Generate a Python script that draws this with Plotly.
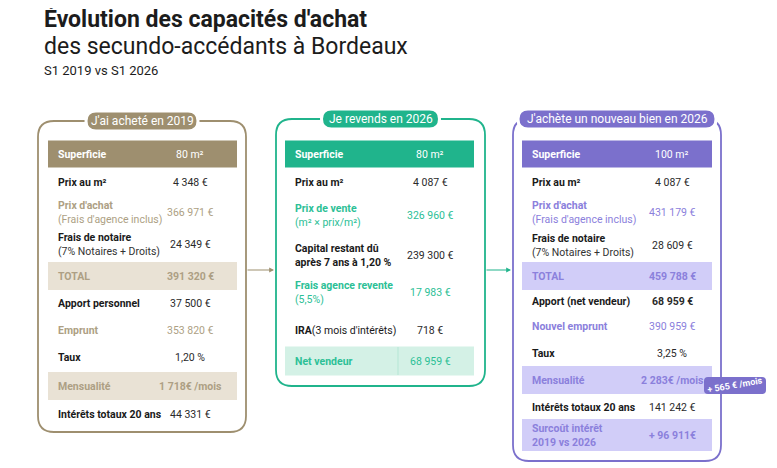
import plotly.graph_objects as go

# --- data ---
p1_labels = ["Superficie", "Prix au m²", "Prix d'achat", "Frais de notaire", "TOTAL",
             "Apport personnel", "Emprunt", "Taux", "Mensualité", "Intérêts totaux 20 ans"]
p1_subs = ["", "", "(Frais d'agence inclus)", "(7% Notaires + Droits)", "", "", "", "", "", ""]
p1_values = ["80 m²", "4 348 €", "366 971 €", "24 349 €", "391 320 €",
             "37 500 €", "353 820 €", "1,20 %", "1 718€ /mois", "44 331 €"]
p1_kinds = ["head", "plain", "accent", "plain", "band", "plain", "accent", "plain", "band", "plain"]

p2_labels = ["Superficie", "Prix au m²", "Prix de vente", "Capital restant dû<br>après 7 ans à 1,20 %",
             "Frais agence revente", "IRA", "Net vendeur"]
p2_subs = ["", "", "(m² × prix/m²)", "", "(5,5%)", "", ""]
p2_values = ["80 m²", "4 087 €", "326 960 €", "239 300 €", "17 983 €", "718 €", "68 959 €"]
p2_kinds = ["head", "plain", "accent", "plain", "accent", "ira", "bandlite"]

p3_labels = ["Superficie", "Prix au m²", "Prix d'achat", "Frais de notaire", "TOTAL",
             "Apport (net vendeur)", "Nouvel emprunt", "Taux", "Mensualité",
             "Intérêts totaux 20 ans", "Surcoût intérêt<br>2019 vs 2026"]
p3_subs = ["", "", "(Frais d'agence inclus)", "(7% Notaires + Droits)", "", "", "", "", "", "", ""]
p3_values = ["100 m²", "4 087 €", "431 179 €", "28 609 €", "459 788 €", "68 959 €",
             "390 959 €", "3,25 %", "2 283€ /mois", "141 242 €", "+ 96 911€"]
p3_kinds = ["head", "plain", "accent", "plain", "band", "boldval", "accent", "plain", "band", "plain", "band"]

# --- layout constants ---
FONT = "Roboto"
panels = [
    dict(labels=p1_labels, subs=p1_subs, values=p1_values, kinds=p1_kinds,
         box=(38, 121, 246, 432), tbl=(48, 237), vx=190, pill="J'ai acheté en 2019", pw=112,
         main="#9e8f6f", light="#e9e2d5", accent="#ad9f84",
         rows=[154, 182, 212, 244, 276, 303, 330, 357, 386, 414], bh=28),
    dict(labels=p2_labels, subs=p2_subs, values=p2_values, kinds=p2_kinds,
         box=(276, 119, 485, 386), tbl=(285, 474), vx=430, pill="Je revends en 2026", pw=118,
         main="#20b48c", light="#d4f1e6", accent="#2cc096",
         rows=[154, 182, 215, 255, 292, 330, 361], bh=29),
    dict(labels=p3_labels, subs=p3_subs, values=p3_values, kinds=p3_kinds,
         box=(513, 119, 721, 461), tbl=(522, 712), vx=672, pill="J'achète un nouveau bien en 2026", pw=198,
         main="#7b70cc", light="#d1cdf8", accent="#8b80dc",
         rows=[154, 182, 212, 245, 276, 301, 326, 353, 380, 407, 435], bh=28),
]


def rrect(x0, y0, x1, y1, r):
    return (f"M{x0+r},{y0} L{x1-r},{y0} Q{x1},{y0} {x1},{y0+r} L{x1},{y1-r} Q{x1},{y1} {x1-r},{y1} "
            f"L{x0+r},{y1} Q{x0},{y1} {x0},{y1-r} L{x0},{y0+r} Q{x0},{y0} {x0+r},{y0} Z")


fig = go.Figure()
shapes, annots = [], []

for p in panels:
    bx0, by0, bx1, by1 = p["box"]
    shapes.append(dict(type="path", path=rrect(bx0, by0, bx1, by1, 16),
                       line=dict(color=p["main"], width=1.8), fillcolor="white"))
    cx = (bx0 + bx1) / 2
    pw = p["pw"]
    shapes.append(dict(type="path", path=rrect(cx - pw / 2, by0 - 10, cx + pw / 2, by0 + 10, 10),
                       line=dict(color="white", width=3), fillcolor=p["main"]))
    annots.append(dict(x=cx, y=by0, text=p["pill"], showarrow=False,
                       font=dict(family=FONT, size=12, color="white")))
    tx0, tx1 = p["tbl"]
    for lab, sub, val, kind, yc in zip(p["labels"], p["subs"], p["values"], p["kinds"], p["rows"]):
        h = p["bh"] + (4 if "<br>" in lab and kind == "band" else 0)
        if kind == "head":
            shapes.append(dict(type="rect", x0=tx0, x1=tx1, y0=yc - 13.5, y1=yc + 13.5,
                               fillcolor=p["main"], line_width=0))
        elif kind in ("band", "bandlite"):
            shapes.append(dict(type="rect", x0=tx0, x1=tx1, y0=yc - h / 2, y1=yc + h / 2,
                               fillcolor=p["light"], line_width=0))
        if kind == "head":
            lc, vc, vb = "white", "white", False
        elif kind in ("accent", "bandlite"):
            lc, vc, vb = p["accent"], p["accent"], False
        elif kind == "band":
            lc, vc, vb = p["accent"], p["accent"], True
        else:
            lc, vc, vb = "#1a1a1a", "#2a2a2a", kind == "boldval"
        if kind == "ira":
            ltxt = "<b>IRA</b>(3 mois d'intérêts)"
        else:
            ltxt = f"<b>{lab}</b>"
            if sub:
                sc = lc if kind == "accent" else "#333"
                ltxt += f"<br><span style='color:{sc}'>{sub}</span>"
        annots.append(dict(x=tx0 + 8, y=yc, text=ltxt, showarrow=False, xanchor="left",
                           align="left", font=dict(family=FONT, size=10.5, color=lc)))
        annots.append(dict(x=p["vx"], y=yc, text=f"<b>{val}</b>" if vb else val, showarrow=False,
                           font=dict(family=FONT, size=10.5, color=vc)))
    if p["pill"].startswith("Je revends"):
        yc = p["rows"][-1]
        shapes.append(dict(type="line", x0=398, x1=398, y0=yc - 14, y1=yc + 14,
                           line=dict(color="#b5e6d5", width=1)))

# connecting arrows
for x0, x1, c in [(246, 274, "#9e8f6f"), (485, 511, "#20b48c")]:
    annots.append(dict(x=x1, y=270, ax=x0, ay=270, axref="x", ayref="y", text="", showarrow=True,
                       arrowhead=2, arrowsize=0.8, arrowwidth=1.2, arrowcolor=c))

# badge
shapes.append(dict(type="path", path=rrect(704, 377, 766, 394, 4), fillcolor="#7b70cc", line_width=0))
annots.append(dict(x=735, y=385, text="<b>+ 565 € /mois</b>", showarrow=False, textangle=-10,
                   font=dict(family=FONT, size=9, color="white")))

# titles
annots += [
    dict(x=42, y=19, text="<b>Évolution des capacités d'achat</b>", showarrow=False, xanchor="left",
         font=dict(family=FONT, size=23, color="#1c1c1c")),
    dict(x=42, y=46, text="des secundo-accédants à Bordeaux", showarrow=False, xanchor="left",
         font=dict(family=FONT, size=23, color="#1c1c1c")),
    dict(x=42, y=70, text="S1 2019 vs S1 2026", showarrow=False, xanchor="left",
         font=dict(family=FONT, size=13, color="#1c1c1c")),
]

# page body has an 8px margin: shift axes so reference pixel coords land in place
fig.update_layout(
    width=769, height=460, margin=dict(l=0, r=0, t=0, b=0),
    paper_bgcolor="white", plot_bgcolor="white", showlegend=False,
    xaxis=dict(range=[8, 777], visible=False, fixedrange=True),
    yaxis=dict(range=[468, 8], visible=False, fixedrange=True),
    shapes=shapes, annotations=annots,
)
fig.write_html("out.html")
